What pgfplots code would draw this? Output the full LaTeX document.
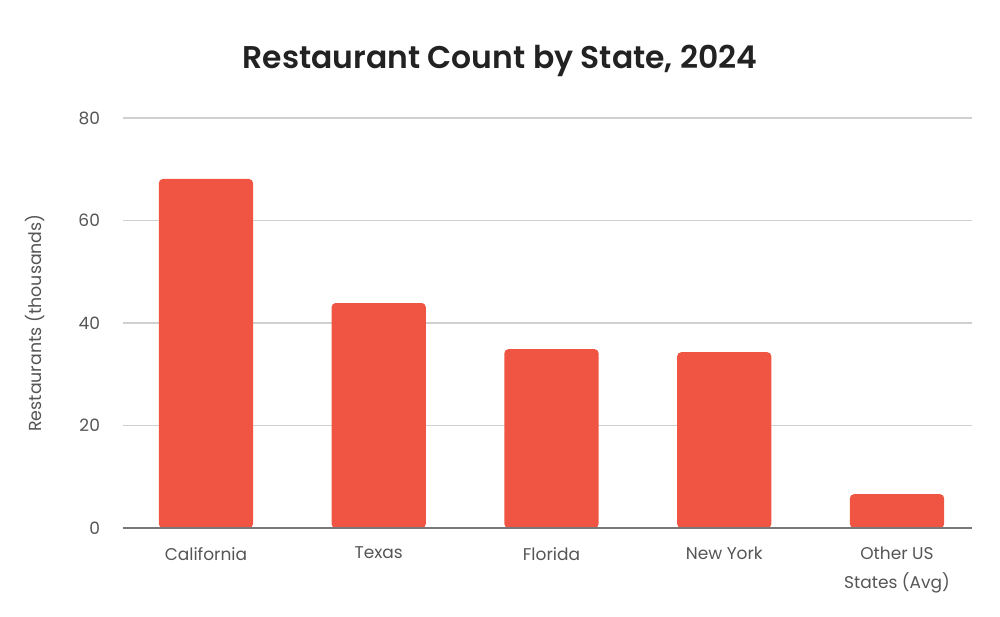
\documentclass[border=0pt]{standalone}
\usepackage{fontspec}
\setmainfont{Poppins}
\newfontfamily\titlefont{Poppins SemiBold}
\usepackage{pgfplots}
\pgfplotsset{compat=1.18}
\definecolor{barred}{RGB}{240,84,66}
\definecolor{gridgray}{RGB}{208,208,208}
\definecolor{basegray}{RGB}{120,120,120}
\definecolor{textgray}{RGB}{85,85,85}
\definecolor{titlegray}{RGB}{34,34,34}
\begin{document}
\begin{tikzpicture}
% 1 px of the reference = 0.5pt
\path[use as bounding box] (-61.5pt,-44pt) rectangle (438.5pt,264pt);
\begin{axis}[
  at={(0pt,0pt)}, anchor=south west,
  scale only axis, width=424.5pt, height=205pt,
  xmin=-0.48, xmax=4.434, ymin=0, ymax=80,
  ybar, bar width=0.545, bar shift=0pt,
  xtick={0,...,4},
  xticklabels={California,Texas,Florida,New York,{Other US\\States (Avg)}},
  ytick={0,20,...,80},
  ymajorgrids, grid style={gridgray, line width=0.6pt},
  axis lines*=left,
  y axis line style={draw=none},
  x axis line style={draw=none},
  major tick length=0pt,
  tick label style={font=\fontsize{8.5}{14.5}\selectfont, text=textgray},
  /pgf/number format/assume math mode=true,
  yticklabel style={anchor=east, xshift=-8pt},
  xticklabel style={align=center, yshift=-6pt},
  ylabel={Restaurants (thousands)},
  ylabel style={at={(axis description cs:-0.1037,0.5)}, anchor=center,
    font=\fontsize{8.7}{10}\selectfont, text=textgray},
]
\addplot[fill=barred, draw=none, rounded corners=2pt] coordinates {
  (0,68.1) (1,43.9) (2,34.9) (3,34.3) (4,6.6)
};
\draw[basegray, line width=0.8pt] (axis cs:-0.48,0) -- (axis cs:4.434,0);
\end{axis}
\node[text=titlegray, font=\fontsize{15.7}{20}\selectfont\titlefont]
  at (188.5pt,233.5pt) {Restaurant Count by State, 2024};
\end{tikzpicture}
\end{document}
